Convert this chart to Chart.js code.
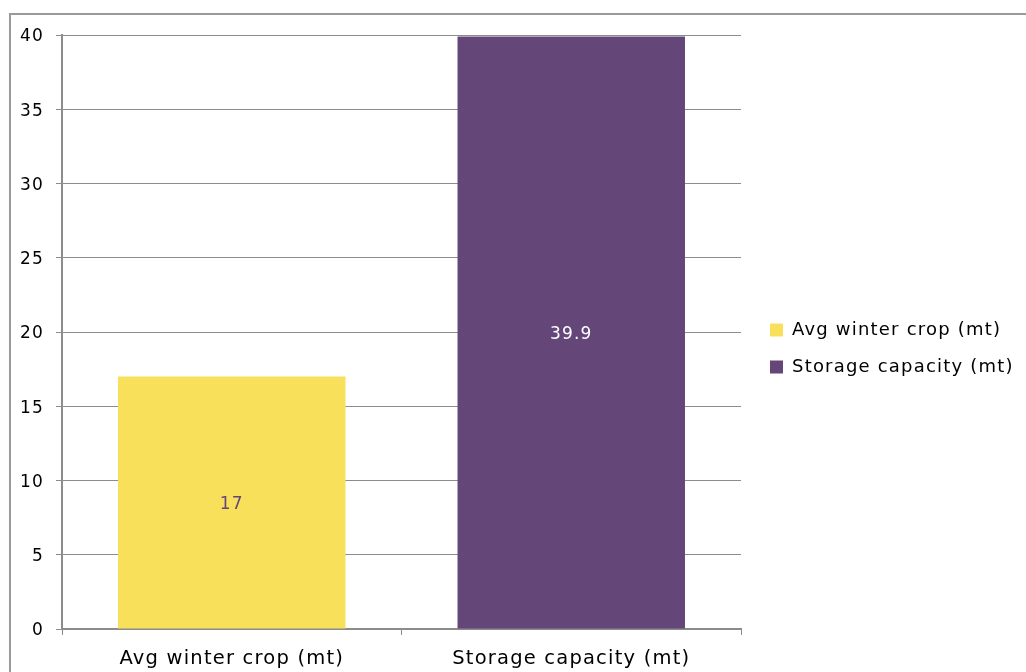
<!DOCTYPE html>
<html>
<head>
<meta charset="utf-8">
<script src="https://cdn.jsdelivr.net/npm/chart.js@4.4.1/dist/chart.umd.min.js"></script>
<style>
    body { margin: 0; background: #fff; overflow: hidden; }
    #wrap { position: relative; width: 1026px; height: 672px; }
    #frame { position: absolute; left: 9px; top: 13px; width: 1030px; height: 680px; border: 2px solid #9a9a9a; box-sizing: border-box; }
    #storageChart { position: absolute; left: 0; top: 0; }
</style>
</head>
<body>
<div id="wrap">
    <div id="frame"></div>
    <canvas id="storageChart" width="1026" height="672"></canvas>
</div>
<script>
// chart data
const categories = ['Avg winter crop (mt)', 'Storage capacity (mt)'];
const cropValues = [17, null];
const storageValues = [null, 39.9];
const yMin = 0;
const yMax = 40;
const yStep = 5;

const cropColor = '#F8E05A';
const storageColor = '#654679';
const gridColor = '#8c8c8c';

// Excel-like wide text
const letterSpacing = {
    id: 'letterSpacing',
    beforeUpdate(chart) { chart.ctx.letterSpacing = '1.2px'; },
    beforeDraw(chart) { chart.ctx.letterSpacing = '1.2px'; }
};

// nudge the legend into its spot next to the plot
const legendShift = {
    id: 'legendShift',
    afterLayout(chart) {
        if (chart.legend) {
            chart.legend.left += 10;
            chart.legend.right = chart.width;
            chart.legend.top -= 5;
            chart.legend.bottom -= 5;
        }
    }
};

// value in the middle of each bar
const barValues = {
    id: 'barValues',
    afterDatasetsDraw(chart) {
        const ctx = chart.ctx;
        chart.data.datasets.forEach((ds, i) => {
            const meta = chart.getDatasetMeta(i);
            meta.data.forEach((bar, j) => {
                const v = ds.data[j];
                if (v === null || v === undefined) return;
                ctx.save();
                ctx.font = '17px "DejaVu Sans"';
                ctx.fillStyle = ds.valueColor;
                ctx.textAlign = 'center';
                ctx.textBaseline = 'middle';
                ctx.fillText(String(v), bar.x, (bar.y + bar.base) / 2 + 2);
                ctx.restore();
            });
        });
    }
};

const ctx = document.getElementById('storageChart').getContext('2d');
new Chart(ctx, {
    type: 'bar',
    data: {
        labels: categories,
        datasets: [{
            label: categories[0],
            data: cropValues,
            backgroundColor: cropColor,
            valueColor: storageColor,
            barPercentage: 0.67,
            categoryPercentage: 1,
            skipNull: true
        }, {
            label: categories[1],
            data: storageValues,
            backgroundColor: storageColor,
            valueColor: '#ffffff',
            barPercentage: 0.67,
            categoryPercentage: 1,
            skipNull: true
        }]
    },
    plugins: [letterSpacing, legendShift, barValues],
    options: {
        responsive: false,
        animation: false,
        layout: {
            padding: { top: 35, left: 0, right: 38, bottom: 0 }
        },
        scales: {
            x: {
                afterFit(scale) { scale.height = 43; },
                grid: {
                    drawOnChartArea: false,
                    drawTicks: true,
                    tickLength: 6,
                    color: gridColor,
                    lineWidth: 1
                },
                border: { display: true, color: gridColor, width: 2 },
                ticks: {
                    color: '#000',
                    padding: 12,
                    font: { family: '"DejaVu Sans"', size: 19.5 }
                }
            },
            y: {
                min: yMin,
                max: yMax,
                afterFit(scale) { scale.width = 62; },
                grid: {
                    color: gridColor,
                    lineWidth: 1,
                    tickLength: 6
                },
                border: { display: true, color: gridColor, width: 2 },
                ticks: {
                    stepSize: yStep,
                    color: '#000',
                    padding: 12,
                    labelOffset: 2,
                    font: { family: '"DejaVu Sans"', size: 17 }
                }
            }
        },
        plugins: {
            legend: {
                display: true,
                position: 'right',
                labels: {
                    boxWidth: 13,
                    boxHeight: 13,
                    padding: 19,
                    color: '#000',
                    font: { family: '"DejaVu Sans"', size: 18 }
                }
            },
            tooltip: { enabled: false }
        }
    }
});
</script>
</body>
</html>
